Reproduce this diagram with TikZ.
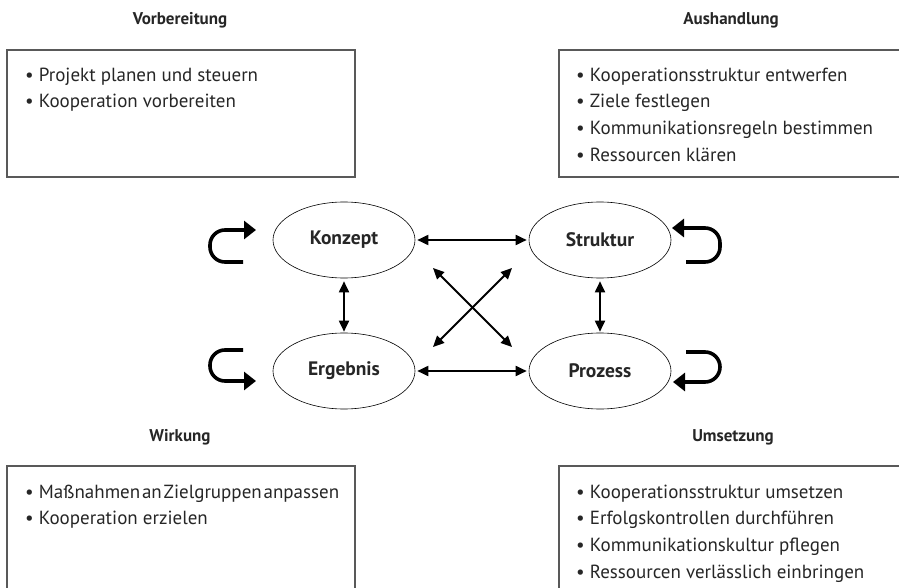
\documentclass[tikz,border=0pt]{standalone}
\usepackage{fontspec}
\setmainfont{PT Sans}
\usetikzlibrary{arrows.meta,shapes.geometric}
\begin{document}
\begin{tikzpicture}[x=1pt,y=-1pt,
  title/.style={font=\fontsize{17}{20}\selectfont\bfseries, text=black!85},
  items/.style={anchor=north west, align=left, font=\fontsize{19}{26.7}\selectfont, text=black!85, inner sep=0pt},
  ell/.style={ellipse, draw, line width=0.6pt, minimum width=142pt, minimum height=76pt, font=\fontsize{19.5}{22}\selectfont\bfseries, text=black!85},
  link/.style={line width=1.8pt, {Triangle[length=11pt,width=10pt]}-{Triangle[length=11pt,width=10pt]}},
  loop/.style={line width=3.6pt, rounded corners=15pt, -{Triangle[length=12pt,width=18pt]}}
]
\useasboundingbox (0,0) rectangle (899,588);
\clip (0,0) rectangle (899,588);

% titles
\node[title] (tVor) at (180,20) {Vorbereitung};
\node[title] (tAus) at (731,20) {Aushandlung};
\node[title] (tWir) at (180,437) {Wirkung};
\node[title] (tUms) at (733,437) {Umsetzung};

% boxes
\draw[draw=black!65, line width=1.1pt] (7,50) rectangle (355,177);
\draw[draw=black!65, line width=1.1pt] (559,50) rectangle (920,177);
\draw[draw=black!65, line width=1.1pt] (7,466) rectangle (355,610);
\draw[draw=black!65, line width=1.1pt] (559,466) rectangle (920,610);

\node[items] (iVor) at (25,67.5) {• Projekt planen und steuern\\• Kooperation vorbereiten};
\node[items] (iAus) at (576,67.5) {• Kooperationsstruktur entwerfen\\• Ziele festlegen\\• Kommunikationsregeln bestimmen\\• Ressourcen klären};
\node[items] (iWir) at (25,484.5) {• Maßnahmen\hspace{1.8pt}an\hspace{1.8pt}Zielgruppen\hspace{1.8pt}anpassen\\• Kooperation erzielen};
\node[items] (iUms) at (576,484.5) {• Kooperationsstruktur umsetzen\\• Erfolgskontrollen durchführen\\• Kommunikationskultur pflegen\\• Ressourcen verlässlich einbringen};

% ellipses
\node[ell] (K) at (344,240) {Konzept};
\node[ell] (S) at (600,240) {Struktur};
\node[ell] (E) at (344,371) {Ergebnis};
\node[ell] (P) at (600,371) {Prozess};

% connectors
\draw[link, shorten <=2pt, shorten >=2pt] (K) -- (S);
\draw[link, shorten <=2pt, shorten >=2pt] (E) -- (P);
\draw[link, shorten <=3pt, shorten >=1pt] (K) -- (E);
\draw[link, shorten <=3pt, shorten >=1pt] (S) -- (P);

\coordinate (d1) at (433,268);
\coordinate (d2) at (512,347);
\coordinate (d3) at (512,268);
\coordinate (d4) at (433,347);
\draw[link] (d1) -- (d2);
\draw[link] (d3) -- (d4);

% self loops
\coordinate (a1) at (243,262); \coordinate (a1t) at (256,230);
\coordinate (b1) at (243,350); \coordinate (b1t) at (256,381);
\coordinate (c1) at (686,262); \coordinate (c1t) at (672,228);
\coordinate (e1) at (686,352); \coordinate (e1t) at (673,382);
\draw[loop] (a1) -- (210,262) -- (210,230) -- (a1t);
\draw[loop] (b1) -- (210,350) -- (210,381) -- (b1t);
\draw[loop] (c1) -- (720,262) -- (720,228) -- (c1t);
\draw[loop] (e1) -- (720,352) -- (720,382) -- (e1t);
\end{tikzpicture}
\end{document}
